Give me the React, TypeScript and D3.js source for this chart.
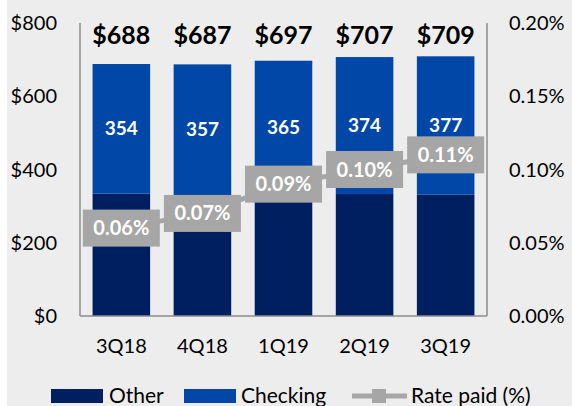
import React from "react";
import * as d3 from "d3";

const quarters = ["3Q18", "4Q18", "1Q19", "2Q19", "3Q19"];
const totals = [688, 687, 697, 707, 709];
const checking = [354, 357, 365, 374, 377];
const other = [334, 330, 332, 333, 332];
const ratePaid = [0.06, 0.07, 0.09, 0.1, 0.11];
const leftTicks = [0, 200, 400, 600, 800];
const rightTicks = [0, 0.05, 0.1, 0.15, 0.2];

const W = 572;
const H = 406;
const margin = { top: 23, right: 85, bottom: 90, left: 80 };
const font = "Lato, 'Open Sans', sans-serif";
const navy = "#001F60";
const blue = "#0047A8";
const grey = "#A6A6A6";

const App = () => {
  const x = d3
    .scaleBand()
    .domain(quarters)
    .range([margin.left, W - margin.right])
    .paddingInner(0.29)
    .paddingOuter(0.155);
  const y = d3
    .scaleLinear()
    .domain([0, 800])
    .range([H - margin.bottom, margin.top]);
  const yRate = d3
    .scaleLinear()
    .domain([0, 0.2])
    .range([H - margin.bottom, margin.top]);

  const cx = (q: string) => (x(q) as number) + x.bandwidth() / 2;
  const line = d3
    .line<number>()
    .x((d, i) => cx(quarters[i]))
    .y(d => yRate(d));

  const boxW = 77;
  const boxH = 37;

  return (
    <svg
      width={W}
      height={H}
      style={{ position: "absolute", left: 0, top: 0, fontFamily: font }}
    >
      <rect x={0} y={0} width={W} height={H} fill="#fff" />
      <rect x={7} y={0} width={W - 7} height={H} fill="#EDEDED" />

      {/* bars */}
      {quarters.map((q, i) => (
        <g key={q}>
          <rect
            x={x(q)}
            y={y(other[i])}
            width={x.bandwidth()}
            height={y(0) - y(other[i])}
            fill={navy}
          />
          <rect
            x={x(q)}
            y={y(other[i] + checking[i])}
            width={x.bandwidth()}
            height={y(other[i]) - y(other[i] + checking[i])}
            fill={blue}
          />
          <text
            x={cx(q)}
            y={(y(other[i]) + y(other[i] + checking[i])) / 2}
            dy="0.35em"
            textAnchor="middle"
            fill="#fff"
            fontWeight="bold"
            fontSize={19}
          >
            {checking[i]}
          </text>
          <text
            x={cx(q)}
            y={44}
            textAnchor="middle"
            fill="#000"
            fontWeight="bold"
            fontSize={25}
          >
            ${totals[i]}
          </text>
          <text
            x={cx(q)}
            y={346}
            dy="0.35em"
            textAnchor="middle"
            fill="#000"
            fontSize={20}
          >
            {q}
          </text>
        </g>
      ))}

      {/* axes */}
      <g stroke="#8C8C8C" strokeWidth={1.5} fill="none">
        <line x1={margin.left} x2={margin.left} y1={margin.top} y2={y(0)} />
        <line
          x1={W - margin.right}
          x2={W - margin.right}
          y1={margin.top}
          y2={y(0)}
        />
        <line x1={margin.left} x2={W - margin.right} y1={y(0)} y2={y(0)} />
      </g>
      {leftTicks.map(t => (
        <text
          key={t}
          x={57}
          y={y(t)}
          dy="0.35em"
          textAnchor="end"
          fontSize={20}
          fill="#000"
        >
          ${t}
        </text>
      ))}
      {rightTicks.map(t => (
        <text
          key={t}
          x={509}
          y={yRate(t)}
          dy="0.35em"
          textAnchor="start"
          fontSize={20}
          fill="#000"
        >
          {t.toFixed(2)}%
        </text>
      ))}

      {/* rate line */}
      <path
        d={line(ratePaid) || ""}
        fill="none"
        stroke={grey}
        strokeWidth={5}
      />
      {ratePaid.map((r, i) => (
        <g key={i}>
          <rect
            x={cx(quarters[i]) - boxW / 2}
            y={yRate(r) - boxH / 2}
            width={boxW}
            height={boxH}
            fill={grey}
          />
          <text
            x={cx(quarters[i])}
            y={yRate(r)}
            dy="0.35em"
            textAnchor="middle"
            fill="#fff"
            fontWeight="bold"
            fontSize={20}
          >
            {r.toFixed(2)}%
          </text>
        </g>
      ))}

      {/* legend */}
      <g fontSize={21} fill="#000">
        <rect x={51} y={389} width={52} height={14} fill={navy} />
        <text x={109} y={403}>Other</text>
        <rect x={184} y={389} width={52} height={14} fill={blue} />
        <text x={241} y={403}>Checking</text>
        <line x1={352} x2={407} y1={396} y2={396} stroke={grey} strokeWidth={5} />
        <rect x={372} y={389} width={14} height={14} fill={grey} />
        <text x={411} y={403}>Rate paid (%)</text>
      </g>
    </svg>
  );
};

export default App;
